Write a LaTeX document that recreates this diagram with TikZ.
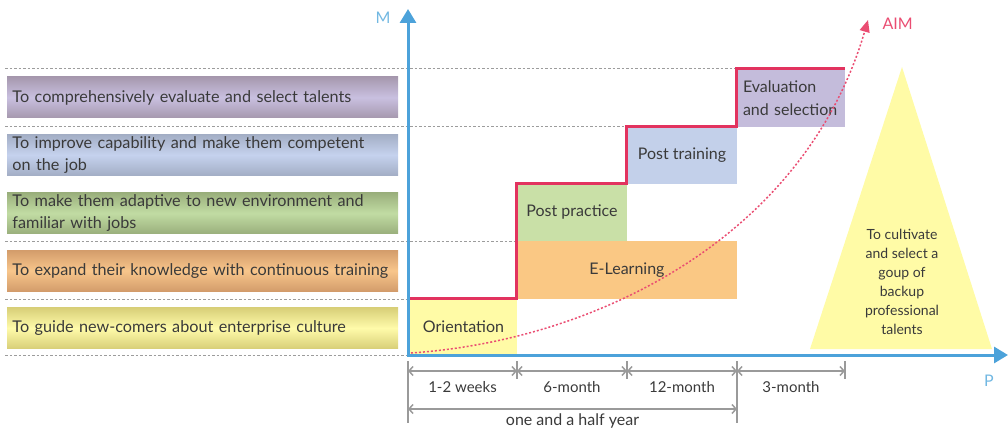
\documentclass[tikz,border=0pt]{standalone}
\usepackage{fontspec}
\setmainfont{Lato}
\usetikzlibrary{arrows.meta,positioning}

\definecolor{axisblue}{HTML}{4CA2DA}
\definecolor{axislabel}{HTML}{72B8E2}
\definecolor{stepred}{HTML}{E2335F}
\definecolor{aimred}{HTML}{EA4D72}
\definecolor{guidegray}{HTML}{9C9C9C}
\definecolor{dimgray}{HTML}{9A9A9A}
\definecolor{txt}{HTML}{3A3A3A}
\definecolor{evalfill}{HTML}{C4BCDB}
\definecolor{trainfill}{HTML}{C3D0EA}
\definecolor{practfill}{HTML}{C9E0A7}
\definecolor{elearnfill}{HTML}{FAC884}
\definecolor{orientfill}{HTML}{FFFBA6}
\definecolor{purpleedge}{HTML}{A698AE}
\definecolor{purplemid}{HTML}{C9C0E0}
\definecolor{blueedge}{HTML}{A3AEC5}
\definecolor{bluemid}{HTML}{C5D2EE}
\definecolor{greenedge}{HTML}{9AAF7C}
\definecolor{greenmid}{HTML}{C1DCA3}
\definecolor{orangeedge}{HTML}{D39C6B}
\definecolor{orangemid}{HTML}{F8C68B}
\definecolor{yellowedge}{HTML}{D8CF78}
\definecolor{yellowmid}{HTML}{FFFBAA}

\begin{document}
\begin{tikzpicture}[x=1pt,y=-1pt,
goal/.style 2 args={minimum width=391pt,minimum height=41pt,text width=380pt,align=left,inner sep=0pt,top color=#1,bottom color=#1,middle color=#2,text=txt,font=\fontsize{16.2}{22}\selectfont},
stage/.style={minimum width=110pt,minimum height=57pt,inner sep=0pt,text=txt,font=\fontsize{16}{23}\selectfont},
guide/.style={guidegray,line width=1pt,dash pattern=on 2.5pt off 2pt},
axis/.style={axisblue,line width=3pt,line join=miter,{Triangle[length=14pt,width=16pt]}-{Triangle[length=14pt,width=16pt]}},
stepline/.style={stepred,line width=3pt,line join=miter},
aimcurve/.style={aimred,line width=1.5pt,dash pattern=on 2pt off 2pt,-{Triangle[length=12pt,width=10pt]}},
dim/.style={dimgray,line width=1.5pt,{Straight Barb[length=4pt,width=9pt]}-{Straight Barb[length=4pt,width=9pt]}},
tick/.style={dimgray,line width=1.5pt},
dimlabel/.style={text=txt,font=\fontsize{15}{18}\selectfont}]
\useasboundingbox (0,0) rectangle (1008,430);

\foreach \y/\x in {69/737,127/627,241/517,299/408,355/408}
  \draw[guide] (5,\y) -- (\x,\y);

\node[goal={purpleedge}{purplemid}] (g5) at (202.5,97.5) {To comprehensively evaluate and select talents};
\node[goal={blueedge}{bluemid},below=16pt of g5] (g4) {To improve capability and make them competent\\on the job};
\node[goal={greenedge}{greenmid},below=17pt of g4] (g3) {To make them adaptive to new environment and\\familiar with jobs};
\node[goal={orangeedge}{orangemid},below=16pt of g3] (g2) {To expand their knowledge with continuous \mbox{training}};
\node[goal={yellowedge}{yellowmid},below=16pt of g2] (g1) {To guide new-comers about enterprise culture};

\node[stage,fill=orientfill,minimum width=107pt,minimum height=56pt,text depth=-3pt] (orient) at (463.5,327) {Orientation};
\node[stage,fill=elearnfill,minimum width=220pt,minimum height=58pt] (elearn) at (627,270) {E-Learning};
\node[stage,fill=practfill] (practice) at (572,212.5) {Post practice};
\node[stage,fill=trainfill] (training) at (682,155.5) {Post training};
\node[stage,fill=evalfill,minimum width=108pt,minimum height=58pt,text width=96pt,align=left] (eval) at (791,98) {Evaluation\\and selection};

\fill[orientfill] (902,67) -- (992,349) -- (810,349) -- cycle;
\node[text=txt,align=center,font=\fontsize{14}{19}\selectfont] (cultivate) at (902,282) {To cultivate\\and select a\\goup of\\backup\\professional\\talents};

\draw[stepline] (orient.north west) -| (practice.north west) -| (training.north west) -| (eval.north west) -- (eval.north east);

\coordinate (O) at (408,355);
\coordinate (ytip) at (408,9);
\coordinate (xtip) at (1008,355);
\draw[axis] (ytip) -- (O) -- (xtip);
\node[text=axislabel,font=\fontsize{16}{18}\selectfont] (M) at (383,18) {M};
\node[text=axislabel,font=\fontsize{16}{18}\selectfont] (P) at (989,381) {P};

\coordinate (start) at (411,353);
\coordinate (aimtip) at (868,20);
\node[text=aimred,font=\fontsize{16}{18}\selectfont,anchor=west] (aim) at (879,24) {AIM};
\draw[aimcurve] (start) .. controls (600,340) and (805,235) .. (aimtip);

\foreach \x/\len in {408/423,517/379,627/379,737/423,845/379}
  \draw[tick] (\x,361) -- (\x,\len);
\foreach \a/\b/\lab [count=\i] in {408/517/1-2 weeks,517/627/6-month,627/737/12-month,737/845/3-month}
  \draw[dim] (\a,371) -- node[dimlabel,below=6pt] (d\i) {\lab} (\b,371);
\draw[dim] (408,409) -- node[dimlabel,below=1pt,font=\fontsize{16}{18}\selectfont] (year) {one and a half year} (737,409);
\end{tikzpicture}
\end{document}
